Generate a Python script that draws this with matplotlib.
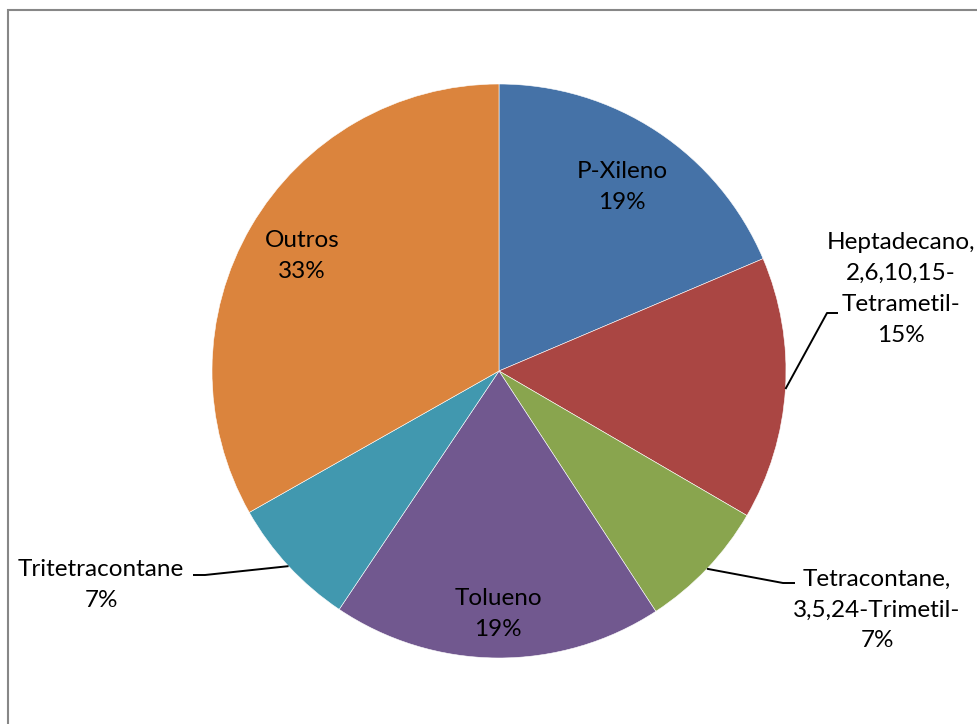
import matplotlib.pyplot as plt
from matplotlib.patches import Rectangle
import numpy as np

plt.rcParams['font.family'] = ['Lato', 'DejaVu Sans']

# data
names = ['P-Xileno', 'Heptadecano,\n2,6,10,15-\nTetrametil-',
         'Tetracontane,\n3,5,24-Trimetil-', 'Tolueno', 'Tritetracontane', 'Outros']
values = [18.6, 14.8, 7.4, 18.6, 7.4, 33.2]
colors = ['#4572A7', '#AA4643', '#89A54E', '#71588F', '#4198AF', '#DB843D']

W, H = 978, 724
fig = plt.figure(figsize=(W / 100, H / 100), dpi=100)
ax = fig.add_axes([0, 0, 1, 1])

cx, cy, r = 499, H - 371, 287
wedges, _ = ax.pie(values, colors=colors, startangle=90, counterclock=False,
                   center=(cx, cy), radius=r,
                   wedgeprops=dict(edgecolor='white', linewidth=0.4))
ax.set_xlim(0, W)
ax.set_ylim(0, H)
ax.set_aspect('equal')
ax.axis('off')

pct = [f'{round(v)}%' for v in values]
fs = 17.5
ls = 1.58

# labels inside the pie (pixel positions, y from top)
inside = {0: (622, 187), 3: (498, 614), 5: (302, 256)}
for i, (x, y) in inside.items():
    ax.text(x, H - y, names[i] + '\n' + pct[i], ha='center', va='center',
            fontsize=fs, linespacing=ls)

# labels outside with leader lines: text centre, elbow, end of elbow
outside = {1: ((901, 289), (827, 313), (838, 313)),
           2: ((877, 610), (783, 583), (795, 583)),
           4: ((101, 585), (205, 575), (193, 575))}
for i, (tpos, elbow, end) in outside.items():
    w = wedges[i]
    mid = np.deg2rad((w.theta1 + w.theta2) / 2)
    ex, ey = cx + r * np.cos(mid), cy + r * np.sin(mid)
    ax.plot([ex, elbow[0], end[0]], [ey, H - elbow[1], H - end[1]],
            color='black', lw=1.4, solid_capstyle='butt')
    ax.text(tpos[0], H - tpos[1], names[i] + '\n' + pct[i], ha='center',
            va='center', fontsize=fs, linespacing=ls)

# chart area border
fig.add_artist(Rectangle((8 / W, -0.1), 1.2, 1.1 - 10 / H, transform=fig.transFigure,
                         fill=False, edgecolor='#878787', lw=1.5))

fig.savefig('out.png', dpi=100)
